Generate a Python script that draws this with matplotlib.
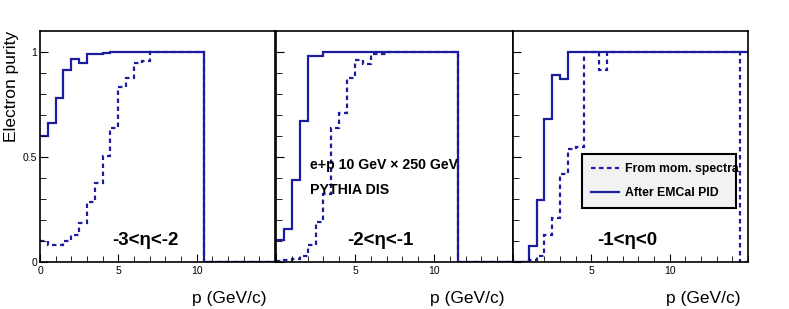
import numpy as np
import matplotlib
matplotlib.use("Agg")
import matplotlib.pyplot as plt

plt.rcParams['font.family'] = ['Liberation Sans', 'DejaVu Sans']

# bin edges in p (GeV/c), 0.5 GeV bins
edges = np.arange(0, 15.01, 0.5)

# -3 < eta < -2
mom1 = [0.098, 0.079, 0.079, 0.098, 0.13, 0.186, 0.284, 0.376, 0.506, 0.638,
        0.833, 0.876, 0.948, 0.956, 0.998] + [1.0]*6 + [0]*9
emc1 = [0.60, 0.66, 0.78, 0.915, 0.965, 0.95, 0.99, 0.99, 0.997] + [1.0]*12 + [0]*9
# -2 < eta < -1
mom2 = [0.005, 0.01, 0.015, 0.03, 0.08, 0.19, 0.326, 0.637, 0.709, 0.876,
        0.96, 0.944, 0.992, 0.992] + [1.0]*9 + [0]*7
emc2 = [0.105, 0.156, 0.39, 0.672, 0.982, 0.98] + [1.0]*17 + [0]*7
# -1 < eta < 0
mom3 = [0, 0, 0.01, 0.03, 0.13, 0.21, 0.42, 0.54, 0.55, 1.0, 1.0, 0.916] + [1.0]*17 + [0]
emc3 = [0, 0, 0.078, 0.297, 0.681, 0.889, 0.873] + [1.0]*23

eta_labels = ['-3<\u03b7<-2', '-2<\u03b7<-1', '-1<\u03b7<0']
eta_xpos = [0.447, 0.44, 0.485]
mom_all = [mom1, mom2, mom3]
emc_all = [emc1, emc2, emc3]

col = '#1c1ca0'
W, H = 789, 309
fig = plt.figure(figsize=(W/100, H/100), dpi=100)

lefts = [40, 276, 513]
widths = [235, 237, 235]
axes = []
for i in range(3):
    ax = fig.add_axes([lefts[i]/W, 1 - 262/H, widths[i]/W, 231/H])
    axes.append(ax)
    ax.stairs(mom_all[i], edges, color=col, lw=1.6, linestyle=(0, (2.0, 1.6)),
              baseline=None, label='From mom. spectra')
    ax.stairs(emc_all[i], edges, color=col, lw=1.6, baseline=None,
              label='After EMCal PID')
    ax.set_xlim(0, 15)
    ax.set_ylim(0, 1.1)
    for s in ax.spines.values():
        s.set_linewidth(1.2)
    ax.set_xticks([0, 5, 10])
    ax.set_xticks(np.arange(0, 15.01, 1), minor=True)
    ax.set_yticks([0, 0.5, 1])
    ax.set_yticks(np.arange(0, 1.01, 0.1), minor=True)
    ax.tick_params(which='both', direction='in', top=False, right=False,
                   labelsize=7.5, pad=3)
    ax.tick_params(which='major', length=6)
    ax.tick_params(which='minor', length=4)
    ax.set_yticklabels(['0', '0.5', '1'] if i == 0 else [])
    ax.set_xticklabels(['0', '5', '10'] if i == 0 else ['', '5', '10'])
    ax.text(eta_xpos[i], 0.095, eta_labels[i], transform=ax.transAxes, ha='center',
            va='center', fontsize=13.5, fontweight='bold')
    ax.set_xlabel('p (GeV/c)', fontsize=12.5, ha='right', va='top')
    ax.xaxis.set_label_coords(1 - 8/widths[i], -0.125)

axes[0].tick_params(axis='y', pad=2)
axes[0].set_ylabel('Electron purity', fontsize=12.5, loc='top', labelpad=3)

axes[1].text(0.145, 0.42, 'e+p 10 GeV \u00d7 250 GeV', transform=axes[1].transAxes,
             fontsize=10.2, fontweight='bold', va='center')
axes[1].text(0.145, 0.31, 'PYTHIA DIS', transform=axes[1].transAxes,
             fontsize=10.2, fontweight='bold', va='center')

leg = axes[2].legend(loc='upper left', bbox_to_anchor=(0.294, 0.234, 0.655, 0.234),
                     mode='expand', prop={'weight': 'bold', 'size': 8.8},
                     fancybox=False, edgecolor='black', facecolor='#f2f2f2',
                     framealpha=1, handlelength=2.3, borderpad=0.75,
                     labelspacing=1.0, borderaxespad=0, handletextpad=0.5)
leg.get_frame().set_linewidth(1.5)
for t in leg.get_texts():
    t.set_clip_path(leg.legendPatch)

fig.savefig('out.png', dpi=100)
